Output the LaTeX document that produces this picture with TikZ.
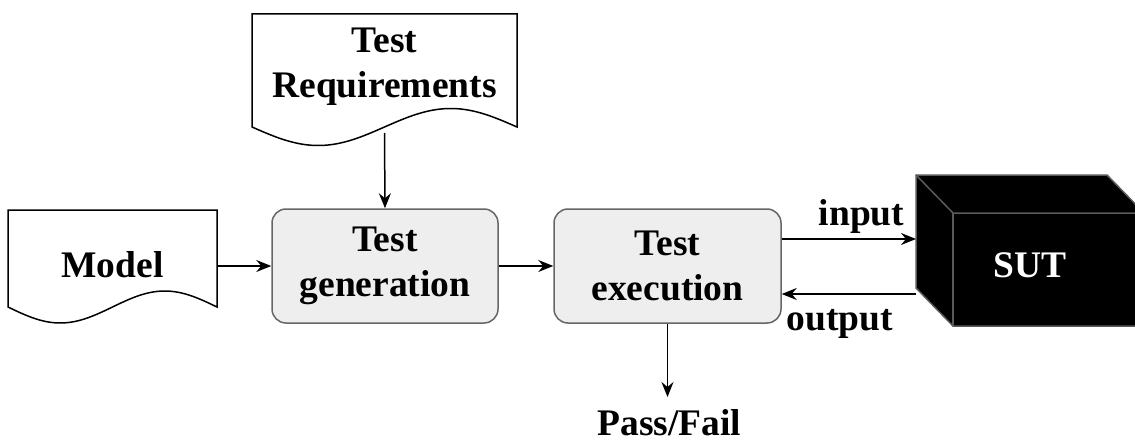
\documentclass[tikz,border=0pt]{standalone}
\usepackage{fontspec}
\setmainfont{Liberation Serif}
\usetikzlibrary{arrows.meta}
\definecolor{boxfill}{HTML}{EEEEEE}
\definecolor{boxline}{HTML}{666666}
\definecolor{cubeline}{HTML}{5A5A5A}
\tikzset{
  lbl/.style={font=\fontsize{37.5}{45}\selectfont\bfseries, align=center, inner sep=0pt},
  doc/.style={draw=black, line width=1.5pt, fill=white},
  procbox/.style={draw=boxline, line width=1.5pt, fill=boxfill, rounded corners=14pt,
    minimum height=114pt, inner sep=0pt, lbl},
  flow/.style={draw=black, line width=1.5pt, -{Stealth[length=15pt, width=12pt, inset=5pt]}},
}
\begin{document}
\begin{tikzpicture}[x=1pt, y=-1pt]
  \clip (0,0) rectangle (1135,441);
  \fill[white] (0,0) rectangle (1135,441);

  % document shapes with wavy bottoms
  \draw[doc] (252,14) -- (517,14) -- (517,127)
    -- plot[domain=517:252, samples=60, smooth] (\x, {127+18.5*sin((\x-252)/265*360)}) -- cycle;
  \node[lbl] (req) at (384.5,67) {Test\\Requirements};
  \coordinate (reqout) at (384.5,133);

  \draw[doc] (8,210) -- (217,210) -- (217,307)
    -- plot[domain=217:8, samples=60, smooth] (\x, {307+16*sin((\x-8)/209*360)}) -- cycle;
  \node[lbl] (model) at (112.5,265) {Model};
  \coordinate (modelout) at (217,266);

  % process boxes
  \node[procbox, minimum width=226pt] (gen) at (385,266) {Test\\generation};
  \node[procbox, minimum width=227pt] (exe) at (667.5,266) {Test\\execution};

  % system under test drawn as a cube
  \draw[cubeline, line width=1.5pt, fill=black]
    (916,175) -- (1107,175) -- (1144,213) -- (1144,326) -- (953,326) -- (916,288) -- cycle;
  \draw[cubeline, line width=1.5pt] (916,175) -- (953,213) -- (1144,213);
  \draw[cubeline, line width=1.5pt] (953,213) -- (953,326);
  \node[lbl, text=white] (sut) at (1030,265) {SUT};
  \coordinate (sutin) at (916,239);
  \coordinate (sutout) at (916,294);

  % connectors
  \draw[flow] (reqout) -- (gen.north);
  \draw[flow] (modelout) -- (gen.west |- modelout);
  \draw[flow] (gen.east) -- (exe.west);
  \draw[flow] (exe.east |- sutin) -- (sutin);
  \draw[flow] (sutout) -- (exe.east |- sutout);
  \coordinate (verdict) at (667.5,397);
  \draw[flow] (exe.south) -- (verdict);

  % labels
  \node[lbl, anchor=base] (inlbl) at (861.5,225) {input};
  \node[lbl, anchor=base] (outlbl) at (840,330) {output};
  \node[lbl, anchor=base] (pf) at (669.5,435) {Pass/Fail};
\end{tikzpicture}
\end{document}
